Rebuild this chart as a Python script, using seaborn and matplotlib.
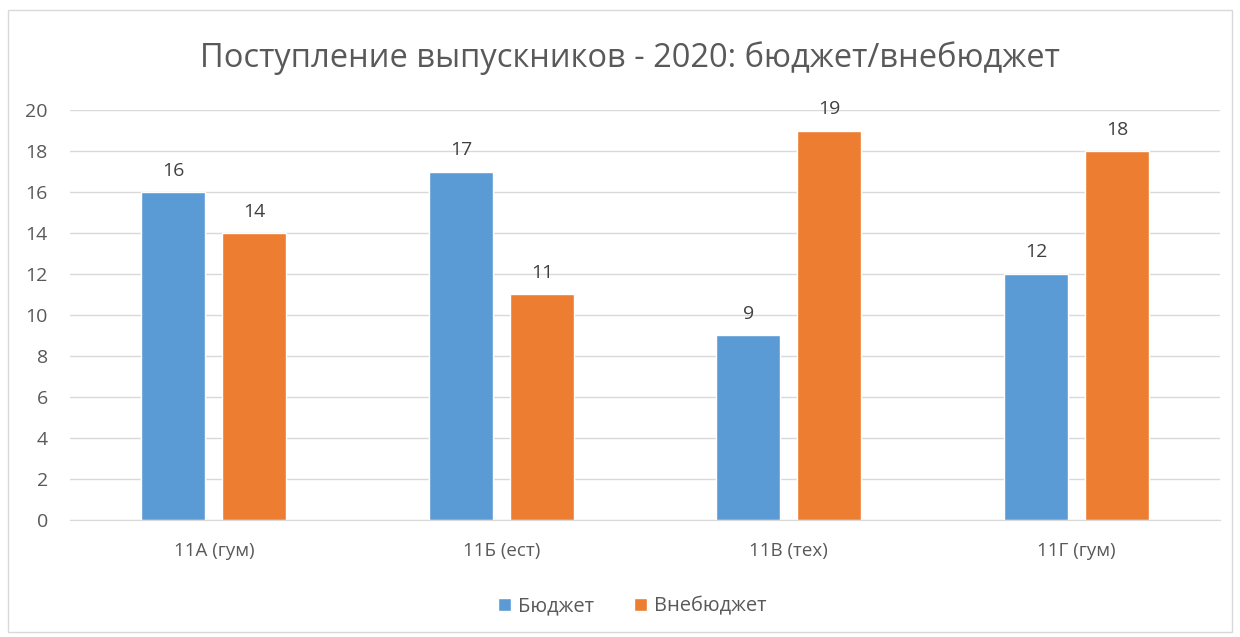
import pandas as pd
import matplotlib.pyplot as plt
import seaborn as sns
from matplotlib.patches import Rectangle

# data
classes = ["11А (гум)", "11Б (ест)", "11В (тех)", "11Г (гум)"]
budget = [16, 17, 9, 12]
nonbudget = [14, 11, 19, 18]
series = ["Бюджет", "Внебюджет"]
colors = ["#5B9BD5", "#ED7D31"]

df = pd.DataFrame({
    "class": classes * 2,
    "value": budget + nonbudget,
    "kind": [series[0]] * len(classes) + [series[1]] * len(classes),
})

sns.set_style("white")
plt.rcParams['font.family'] = ['Open Sans', 'DejaVu Sans']

fig = plt.figure(figsize=(12.4, 6.37), dpi=100)
ax = fig.add_axes([0.0565, 0.1837, 0.9275, 0.6436])

sns.barplot(data=df, x="class", y="value", hue="kind", palette=colors,
            width=0.563, gap=0.21, ax=ax, legend=True, saturation=1)

for cont in ax.containers:
    ax.bar_label(cont, padding=9, fontsize=14, color="#404040")

ax.set_ylim(0, 20)
ax.set_xlim(-0.5, 3.5)
ax.set_yticks(range(0, 21, 2))
ax.yaxis.grid(True, color="#D9D9D9", linewidth=1)
ax.set_axisbelow(True)
for s in ["top", "right", "left"]:
    ax.spines[s].set_visible(False)
ax.spines["bottom"].set_color("#D9D9D9")
ax.tick_params(axis="both", length=0, labelsize=14, labelcolor="#595959")
ax.tick_params(axis="x", pad=16, labelsize=13.5)
ax.tick_params(axis="y", pad=16)
ax.set_xlabel("")
ax.set_ylabel("")

fig.suptitle("Поступление выпускников - 2020: бюджет/внебюджет",
             x=0.508, y=0.935, fontsize=23.5, color="#595959")

handles, labels = ax.get_legend_handles_labels()
ax.legend(handles, labels, loc="center", bbox_to_anchor=(0.51, 0.048),
          bbox_transform=fig.transFigure, ncol=2, frameon=False,
          fontsize=14.5, labelcolor="#595959", handlelength=0.65, handleheight=0.65,
          handletextpad=0.35, columnspacing=2.0)

fig.patches.append(Rectangle((0.0065, 0.008), 0.987, 0.977, transform=fig.transFigure,
                             fill=False, edgecolor="#D9D9D9", linewidth=1))

fig.savefig("out.png", dpi=100)
